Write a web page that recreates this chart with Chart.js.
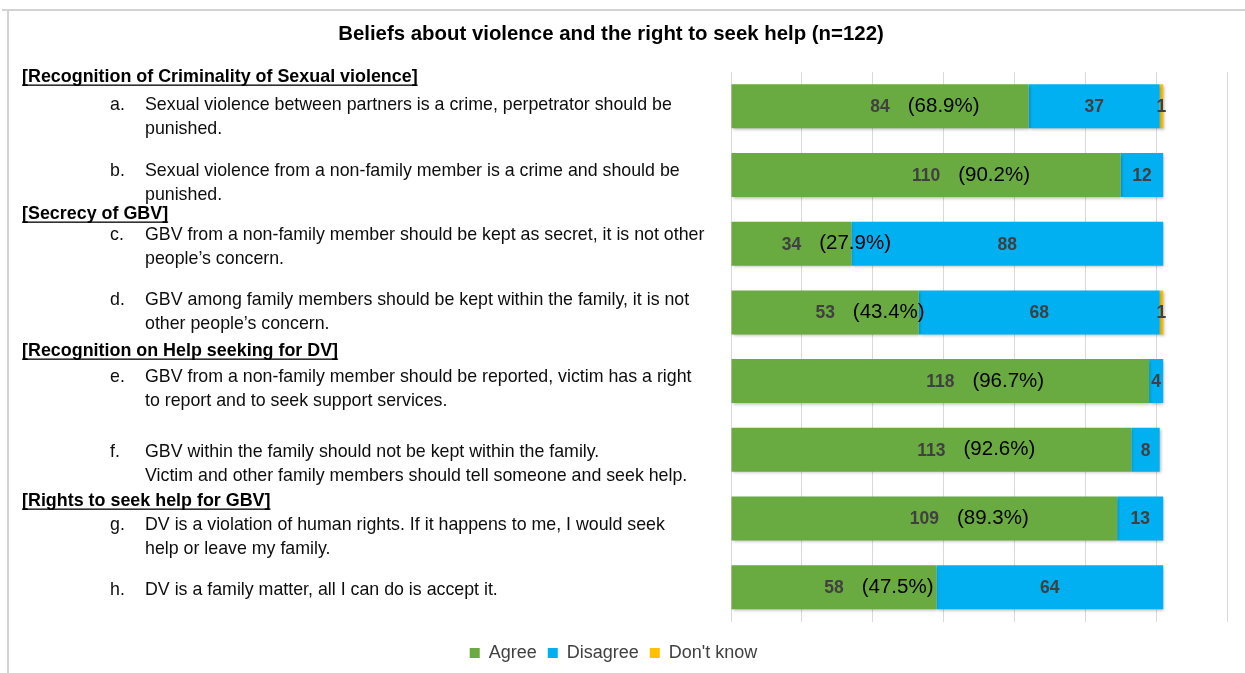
<!DOCTYPE html>
<html>
<head>
<meta charset="utf-8">
<script src="https://cdn.jsdelivr.net/npm/chart.js@4.4.0/dist/chart.umd.min.js"></script>
<style>
  html, body { margin: 0; padding: 0; background: #ffffff; }
  #wrap { position: relative; width: 1245px; height: 673px; }
</style>
</head>
<body>
<div id="wrap"><canvas id="c" width="1245" height="673"></canvas></div>
<script>
// ---------- DATA ----------
const chartTitle = 'Beliefs about violence and the right to seek help (n=122)';
const categories = ['a.', 'b.', 'c.', 'd.', 'e.', 'f.', 'g.', 'h.'];
const itemLines = [
  ['Sexual violence between partners is a crime, perpetrator should be', 'punished.'],
  ['Sexual violence from a non-family member is a crime and should be', 'punished.'],
  ['GBV from a non-family member should be kept as secret, it is not other', 'people\u2019s concern.'],
  ['GBV among family members should be kept within the family, it is not', 'other people\u2019s concern.'],
  ['GBV from a non-family member should be reported, victim has a right', 'to report and to seek support services.'],
  ['GBV within the family should not be kept within the family.', 'Victim and other family members should tell someone and seek help.'],
  ['DV is a violation of human rights. If it happens to me, I would seek', 'help or leave my family.'],
  ['DV is a family matter, all I can do is accept it.']
];
const groupHeaders = [
  '[Recognition of Criminality of Sexual violence]',
  '[Secrecy of GBV]',
  '[Recognition on Help seeking for DV]',
  '[Rights to seek help for GBV]'
];
const seriesNames = ['Agree', 'Disagree', "Don't know"];
const agree    = [84, 110, 34, 53, 118, 113, 109, 58];
const disagree = [37, 12, 88, 68, 4, 8, 13, 64];
const dontKnow = [1, 0, 0, 1, 0, 0, 0, 0];
const agreePct = ['(68.9%)', '(90.2%)', '(27.9%)', '(43.4%)', '(96.7%)', '(92.6%)', '(89.3%)', '(47.5%)'];
const xTicks = [0, 20, 40, 60, 80, 100, 120, 140];

// ---------- LAYOUT (text placement on the left panel) ----------
const headerBaselines = [82, 219, 356, 506];
const itemBaselines = [110, 176, 240, 305, 382, 457, 530, 595];
const lineGap = 23.5;
const FONT = "'Liberation Sans', Arial, sans-serif";
const COLORS = ['#6aab41', '#00b0f0', '#ffc000'];

const sidePanel = {
  id: 'sidePanel',
  beforeDraw(chart) {
    const ctx = chart.ctx;
    ctx.save();
    // frame
    ctx.strokeStyle = '#d3d3d3';
    ctx.lineWidth = 2;
    ctx.beginPath();
    ctx.moveTo(2, 10); ctx.lineTo(1245, 10);
    ctx.moveTo(8, 10); ctx.lineTo(8, 673);
    ctx.stroke();
    // title
    ctx.fillStyle = '#000';
    ctx.font = "bold 20.4px " + FONT;
    ctx.textAlign = 'center';
    ctx.textBaseline = 'middle';
    ctx.fillText(chartTitle, 611, 34);
    // headers
    ctx.textAlign = 'left';
    ctx.textBaseline = 'alphabetic';
    ctx.font = "bold 17.9px " + FONT;
    groupHeaders.forEach((h, i) => {
      ctx.fillStyle = '#000';
      ctx.fillText(h, 22, headerBaselines[i]);
      const w = ctx.measureText(h).width;
      ctx.fillRect(22, headerBaselines[i] + 2.5, w, 1.3);
    });
    // items
    ctx.font = "17.8px " + FONT;
    ctx.fillStyle = '#0d0d0d';
    categories.forEach((c, i) => {
      ctx.fillText(c, 110, itemBaselines[i]);
      itemLines[i].forEach((ln, j) => {
        ctx.fillText(ln, 145, itemBaselines[i] + j * lineGap);
      });
    });
    ctx.restore();
  },
  beforeDatasetsDraw(chart) {
    const ctx = chart.ctx;
    ctx.save();
    ctx.shadowColor = 'rgba(0,0,0,0.28)';
    ctx.shadowBlur = 3;
    ctx.shadowOffsetX = 1;
    ctx.shadowOffsetY = 1.5;
  },
  afterDatasetsDraw(chart) {
    const ctx = chart.ctx;
    ctx.restore();
    ctx.save();
    ctx.textBaseline = 'middle';
    chart.data.datasets.forEach((ds, di) => {
      const meta = chart.getDatasetMeta(di);
      meta.data.forEach((el, i) => {
        const v = ds.data[i];
        if (!v) return;
        const cx = (el.x + el.base) / 2;
        ctx.font = "bold 17.5px " + FONT;
        ctx.fillStyle = '#404040';
        ctx.textAlign = 'center';
        ctx.fillText(String(v), cx, el.y + 1);
        if (di === 0) {
          const w = ctx.measureText(String(v)).width;
          ctx.font = "20.5px " + FONT;
          ctx.fillStyle = '#000';
          ctx.textAlign = 'left';
          ctx.fillText(agreePct[i], cx + w / 2 + 18, el.y);
        }
      });
    });
    ctx.restore();
  }
};

new Chart(document.getElementById('c'), {
  type: 'bar',
  data: {
    labels: categories,
    datasets: [
      { label: seriesNames[0], data: agree, backgroundColor: COLORS[0] },
      { label: seriesNames[1], data: disagree, backgroundColor: COLORS[1] },
      { label: seriesNames[2], data: dontKnow, backgroundColor: COLORS[2] }
    ]
  },
  options: {
    indexAxis: 'y',
    responsive: false,
    animation: false,
    layout: { padding: { left: 0, right: 18, top: 72, bottom: 1 } },
    datasets: { bar: { categoryPercentage: 0.8, barPercentage: 0.8, borderWidth: 0 } },
    scales: {
      x: {
        stacked: true, min: 0, max: 140,
        afterBuildTicks: (s) => { s.ticks = xTicks.map(v => ({ value: v })); },
        ticks: { display: false },
        grid: { color: '#d9d9d9', lineWidth: 1, drawTicks: false },
        border: { display: false },
        afterFit: (s) => { s.height = 11.5; }
      },
      y: {
        stacked: true,
        ticks: { display: false },
        grid: { display: false },
        border: { display: false },
        afterFit: (s) => { s.width = 731; }
      }
    },
    plugins: {
      title: { display: false },
      tooltip: { enabled: false },
      legend: {
        position: 'bottom',
        labels: {
          boxWidth: 10, boxHeight: 10, padding: 11,
          color: '#404040',
          font: { size: 18, family: FONT }
        }
      }
    }
  },
  plugins: [sidePanel]
});
</script>
</body>
</html>
